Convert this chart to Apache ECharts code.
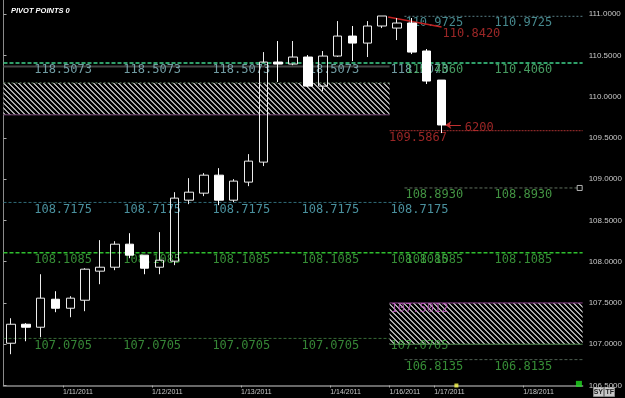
<!DOCTYPE html>
<html><head><meta charset="utf-8">
<script src="https://cdn.jsdelivr.net/npm/echarts@6/dist/echarts.min.js"></script>
<style>html,body{margin:0;padding:0;background:#000;}#c{width:625px;height:398px;}</style>
</head><body><div id="c"></div>
<script>
// ---- data ----
const candleOpen  = [107.012,107.242,107.206,107.545,107.436,107.533,107.885,107.933,108.212,108.079,107.933,108.006,108.745,108.830,109.048,108.745,108.964,109.206,110.418,110.394,110.479,110.127,110.491,110.733,110.648,110.855,110.830,110.891,110.552,110.200];
const candleClose = [107.242,107.206,107.558,107.436,107.558,107.909,107.933,108.212,108.079,107.921,108.018,108.770,108.842,109.048,108.745,108.976,109.218,110.418,110.394,110.479,110.127,110.491,110.733,110.648,110.855,110.976,110.891,110.539,110.188,109.656];
const candleLow   = [106.879,107.036,107.085,107.388,107.327,107.400,107.727,107.897,108.042,107.848,107.848,107.958,108.697,108.794,108.685,108.721,108.915,109.158,110.176,110.380,110.115,110.067,110.480,110.430,110.479,110.830,110.685,110.515,110.152,109.558];
const candleHigh  = [107.315,107.255,107.848,107.642,107.582,107.921,108.261,108.248,108.345,108.079,108.358,108.842,109.012,109.073,109.133,109.000,109.303,110.539,110.673,110.673,110.503,110.552,110.915,110.855,110.915,110.976,110.952,110.952,110.576,110.200];
const slotCount = 39;
const dateLabels = ['1/11/2011','1/12/2011','1/13/2011','1/14/2011','1/16/2011','1/17/2011','1/18/2011'];
const dateSlots  = [4,10,16,22,26,29,35];
const prevLevels = [110.4060, 108.7175, 108.1085, 107.0705];
const prevLabels = ['118.5073','108.7175','108.1085','107.0705'];
const newLevels  = [110.9725, 110.4060, 108.8930, 108.1085, 106.8135];
const newLabels  = ['110.9725','110.4060','108.8930','108.1085','106.8135'];
const zoneHigh = [110.166, 107.500];
const zoneLow  = [109.779, 107.000];
const zoneLabel = '107.5012';
const shadowLevel = 110.364;
const rangeLevel = 109.5867;
const rangeLabels = ['109.5867','6200'];
const trendFrom = 110.964, trendTo = 110.842;
const trendLabel = '110.8420';
const currentPrice = 109.656;

// ---- build ----
const cats = Array.from({length: slotCount}, (_, i) => String(i));
const candles = candleOpen.map((o, i) => [o, candleClose[i], candleLow[i], candleHigh[i]]);

function hatch() {
  const c = document.createElement('canvas'); c.width = 5; c.height = 5;
  const g = c.getContext('2d');
  g.fillStyle = '#000'; g.fillRect(0, 0, 5, 5);
  g.fillStyle = '#a9a9a9';
  for (let i = 0; i < 5; i++) { g.fillRect(i, i, 1, 1); g.fillRect((i + 1) % 5, i, 1, 1); }
  return c;
}
const hatchPattern = {image: hatch(), repeat: 'repeat'};

const FONT = 'DejaVu Sans Mono';
const series = [];

// horizontal level segments (layout: start/end slot, style)
const segs = [
  {v: newLevels[0], b: [27, 39], color: '#587c84', type: [2, 2], w: 1},
  {v: prevLevels[0], b: [0, 39], color: '#3fd48c', type: [4, 2], w: 1.5},
  {v: shadowLevel, b: [0, 26], color: '#444', type: 'solid', w: 2},
  {v: zoneHigh[0], b: [0, 26], color: '#5f805f', type: [2, 2], w: 1},
  {v: zoneLow[0], b: [0, 26], color: '#7a4a7a', type: 'solid', w: 1},
  {v: rangeLevel, b: [26, 39], color: '#a83030', type: [2, 1], w: 1},
  {v: newLevels[2], b: [27, 39], color: '#60705f', type: [3, 2], w: 1},
  {v: prevLevels[1], b: [0, 27], color: '#2f6a78', type: [3, 2], w: 1},
  {v: prevLevels[2], b: [0, 39], color: '#2ec02e', type: [4, 2], w: 1.5},
  {v: zoneHigh[1], b: [26, 39], color: '#8a3f8a', type: 'solid', w: 1},
  {v: zoneLow[1], b: [26, 39], color: '#4f8a4f', type: 'solid', w: 1},
  {v: prevLevels[3], b: [0, 26], color: '#356a35', type: [3, 2], w: 1},
  {v: newLevels[4], b: [27, 39], color: '#4d5f50', type: [3, 2], w: 1}
];
segs.forEach(s => series.push({
  type: 'line', xAxisIndex: 1, yAxisIndex: 0, symbol: 'none', silent: true, z: 2,
  data: [[s.b[0], s.v], [s.b[1], s.v]],
  lineStyle: {color: s.color, type: s.type, width: s.w}
}));

// zones
series.push({
  type: 'line', xAxisIndex: 1, yAxisIndex: 0, data: [], silent: true, z: 1,
  markArea: {silent: true, itemStyle: {color: hatchPattern},
    data: [[{coord: [0, zoneHigh[0]]}, {coord: [26, zoneLow[0]]}],
           [{coord: [26, zoneHigh[1]]}, {coord: [39, zoneLow[1]]}]]}
});

// labels
function labelSeries(items) {
  return {
    type: 'scatter', xAxisIndex: 1, yAxisIndex: 0, symbolSize: 1, silent: true, z: 3,
    itemStyle: {color: 'transparent'},
    data: items.map(it => ({value: [it.b, it.v], label: {
      show: true, position: [0, it.dy === undefined ? 1.5 : it.dy], align: 'left', verticalAlign: 'top',
      formatter: it.t, color: it.c, fontFamily: FONT, fontSize: 12}}))
  };
}
const prevColors = ['#8cc2ca', '#5db4c4', '#44b044', '#44a844'];
const newColors  = ['#58aab0', '#58c078', '#52b852', '#44b044', '#44b044'];
const lab = [];
prevLevels.forEach((v, k) => [2.1, 8.1, 14.1, 20.1, 26.1].forEach(b => lab.push({b, v, t: prevLabels[k], c: prevColors[k]})));
newLevels.forEach((v, k) => [27.1, 33.1].forEach(b => lab.push({b, v, t: newLabels[k], c: newColors[k]})));
lab.push({b: 29.6, v: trendTo, t: trendLabel, c: '#c03030'});
lab.push({b: 26.0, v: rangeLevel, t: rangeLabels[0], c: '#c03030'});
lab.push({b: 31.1, v: rangeLevel, t: rangeLabels[1], c: '#c03030', dy: -8});
lab.push({b: 26.1, v: zoneHigh[1], t: zoneLabel, c: '#c65ac6', dy: 0});
series.push(labelSeries(lab));

// trend line
series.push({type: 'line', xAxisIndex: 1, yAxisIndex: 0, symbol: 'none', silent: true, z: 4,
  data: [[25.9, trendFrom], [29.5, trendTo]], lineStyle: {color: '#c02020', width: 1.5}});

// arrow to current price
series.push({type: 'line', xAxisIndex: 1, yAxisIndex: 0, data: [], silent: true, z: 4,
  markLine: {silent: true, symbol: ['none', 'arrow'], symbolSize: 6,
    lineStyle: {color: '#c03030', type: 'solid', width: 1}, label: {show: false},
    data: [[{coord: [30.8, currentPrice]}, {coord: [29.75, currentPrice]}]]}});

// small markers
series.push({type: 'scatter', xAxisIndex: 1, yAxisIndex: 0, silent: true, z: 6, symbol: 'rect',
  data: [
    {value: [30.5, 106.5], symbolSize: 4, itemStyle: {color: '#ffff50'}},
    {value: [38.75, 106.52], symbolSize: 6, itemStyle: {color: '#22dd22'}},
    {value: [38.8, newLevels[2]], symbolSize: 5, itemStyle: {color: '#000', borderColor: '#ddd', borderWidth: 1}}
  ]});

// candles
series.push({
  type: 'candlestick', xAxisIndex: 0, yAxisIndex: 0, data: candles, barWidth: 9, z: 5,
  itemStyle: {color: 'rgba(0,0,0,0)', color0: '#ffffff', borderColor: '#ececec', borderColor0: '#ffffff', borderWidth: 1},
  markLine: {silent: true, symbol: 'none', data: [{yAxis: currentPrice}],
    lineStyle: {opacity: 0},
    label: {show: true, position: 'end', distance: 0, formatter: currentPrice.toFixed(4),
      backgroundColor: '#fff', color: '#000', fontSize: 8, fontFamily: 'Arial', padding: [2, 4, 1, 4]}}
});

const chart = echarts.init(document.getElementById('c'), null, {renderer: 'canvas'});
chart.setOption({
  backgroundColor: '#000',
  animation: false,
  title: {text: 'PIVOT POINTS 0', left: 6, top: 2,
    textStyle: {color: '#fff', fontSize: 7.5, fontStyle: 'italic', fontWeight: 'bold', fontFamily: 'Arial'}},
  grid: {left: 3.5, right: 39.5, top: 0, bottom: 12.5},
  xAxis: [
    {type: 'category', data: cats, boundaryGap: true,
      axisLine: {show: true, lineStyle: {color: '#8a8a8a', width: 1.5}}, axisTick: {show: false}, axisLabel: {show: false}, splitLine: {show: false}},
    {type: 'value', min: 0, max: slotCount, position: 'bottom',
      axisLine: {show: false}, splitLine: {show: false},
      axisTick: {show: true, customValues: dateSlots, length: 2, lineStyle: {color: '#aaa'}},
      axisLabel: {show: true, customValues: dateSlots, formatter: v => dateLabels[dateSlots.indexOf(Math.round(v))] || '',
        align: 'left', fontSize: 7, color: '#c8c8c8', fontFamily: 'Arial', margin: 3}}
  ],
  yAxis: [
    {type: 'value', position: 'right', min: 106.5, max: 111.17, interval: 0.5,
      axisLine: {show: true, lineStyle: {color: '#9a9a9a'}},
      axisTick: {show: true, length: 3, lineStyle: {color: '#aaa'}},
      axisLabel: {formatter: v => v.toFixed(4), fontSize: 8, color: '#c8c8c8', fontFamily: 'Arial', margin: 6, showMaxLabel: false},
      splitLine: {show: false}},
    {type: 'value', position: 'left', min: 106.5, max: 111.17,
      axisLine: {show: true, lineStyle: {color: '#8a8a8a'}}, axisTick: {show: false}, axisLabel: {show: false}, splitLine: {show: false}}
  ],
  graphic: [
    {type: 'rect', right: 21, bottom: 1, shape: {width: 10, height: 9}, style: {fill: '#c8c8c8', stroke: '#888'}},
    {type: 'text', right: 22, bottom: 2, style: {text: 'SY', fill: '#222', font: 'bold 7px Arial'}},
    {type: 'rect', right: 10, bottom: 1, shape: {width: 10, height: 9}, style: {fill: '#c8c8c8', stroke: '#888'}},
    {type: 'text', right: 11, bottom: 2, style: {text: 'TF', fill: '#222', font: 'bold 7px Arial'}}
  ],
  series
});
</script></body></html>
